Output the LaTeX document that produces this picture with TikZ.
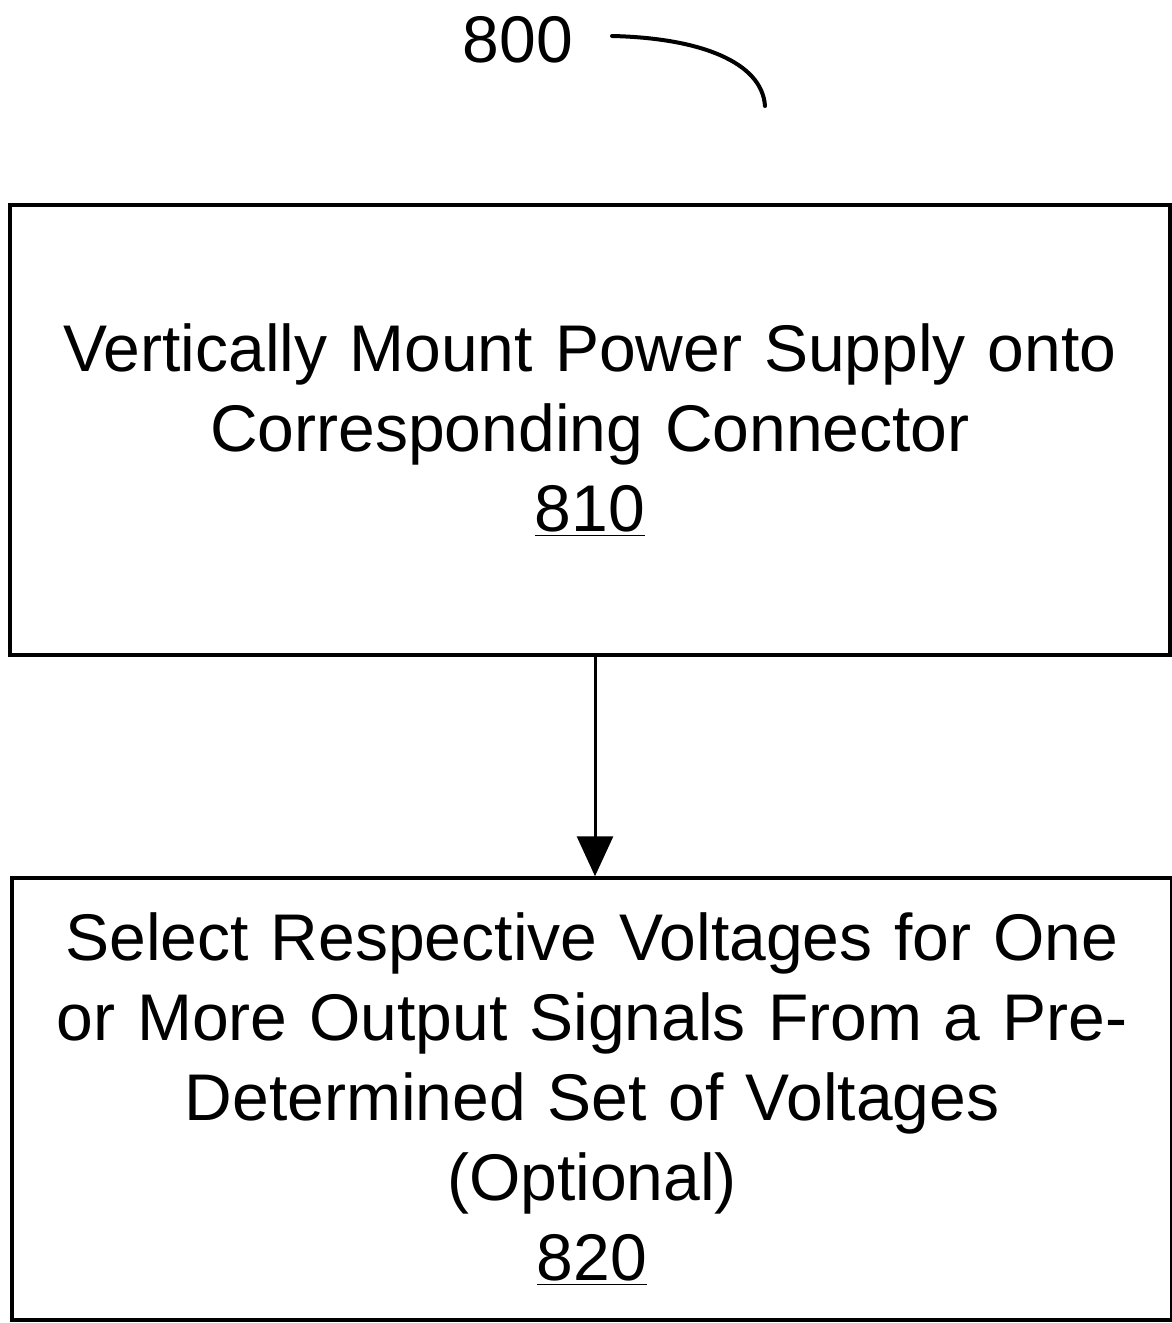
\documentclass[tikz,border=0pt]{standalone}
\usepackage{fontspec}
\setmainfont{Liberation Sans}
\usetikzlibrary{arrows.meta}
\begin{document}
\begin{tikzpicture}[x=0.5pt,y=-0.5pt,
  stepbox/.style={draw=black,line width=1.75pt,align=center,
    font=\fontsize{33pt}{40pt}\selectfont,text width=560pt,inner sep=0pt,
    minimum width=580pt},
  conn/.style={line width=1.5pt,-{Triangle[width=18pt,length=20pt]}}]
\useasboundingbox (0,0) rectangle (1172,1323);
\node[font=\fontsize{33pt}{40pt}\selectfont] (lbl) at (518,40) {800};
\coordinate (c0) at (612,36);
\coordinate (c1) at (765,106);
\draw[line width=2pt,line cap=round] (c0) .. controls (700,38) and (762,62) .. (c1);
\node[stepbox,minimum height=225pt] (b810) at (590,430)
  {Vertically Mount Power Supply onto\\Corresponding Connector\\\underline{810}};
\node[stepbox,minimum height=221pt] (b820) at (592,1099)
  {Select Respective Voltages for One\\or More Output Signals From a Pre-\\Determined Set of Voltages\\(Optional)\\\underline{820}};
\draw[conn] (b810.south -| 595,0) -- (b820.north -| 595,0);
\end{tikzpicture}
\end{document}
